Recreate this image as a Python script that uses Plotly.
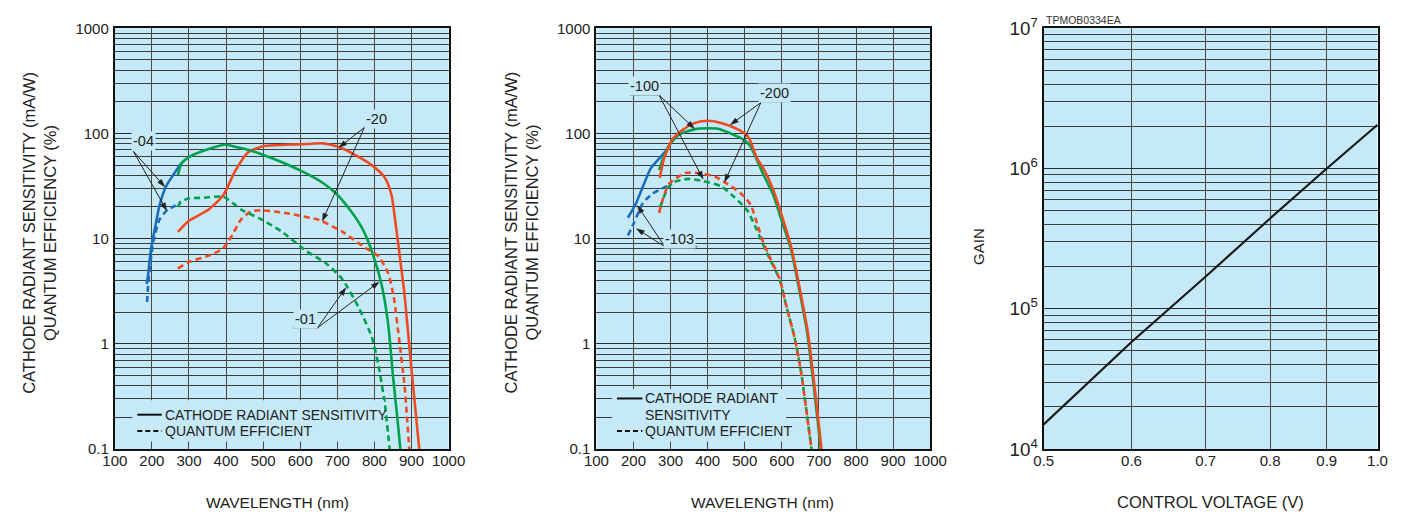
import plotly.graph_objects as go
import math

# ---------------- data ----------------
# Left panel (wavelength nm -> mA/W or %)
wl_04_crs = [186, 190, 194, 199, 208, 221, 239, 261, 279]
v_04_crs = [3.7, 4.6, 6.2, 8.5, 12.4, 21, 31.8, 42, 52]
wl_04_qe = [187, 190, 195, 204, 221, 243, 262, 278]
v_04_qe = [2.5, 3.6, 5.4, 9.4, 15.3, 18.9, 20.5, 22.4]

wl_01_crs = [270, 280, 300, 353, 397, 430, 468, 538, 580, 620, 660, 696, 740, 770, 793, 819, 837, 850, 863, 870]
v_01_crs = [40, 52, 59.6, 71, 78, 74, 68.6, 55.6, 48, 41, 34, 27, 17.6, 12, 7.6, 3.7, 1.55, 0.5, 0.18, 0.1]
wl_01_qe = [270, 278, 296, 340, 393, 441, 494, 551, 617, 670, 714, 758, 793, 811, 828, 841]
v_01_qe = [20, 22.4, 24, 24.5, 25, 18.9, 15.3, 11.6, 7.6, 5.8, 4.1, 2.2, 1.16, 0.62, 0.27, 0.1]

wl_20_crs = [270, 300, 353, 393, 424, 459, 503, 560, 620, 661, 700, 750, 793, 828, 846, 859, 872, 881, 899, 921]
v_20_crs = [11.6, 14.8, 18.9, 26, 43.6, 66, 76, 78, 79.5, 80.5, 75, 62, 50, 38, 26, 12.4, 5.4, 3.0, 0.62, 0.1]
wl_20_qe = [270, 300, 353, 388, 406, 441, 468, 494, 560, 652, 714, 775, 811, 837, 852, 868, 881, 894]
v_20_qe = [5.2, 6, 6.9, 7.9, 9.3, 15.3, 18.2, 18.6, 17.5, 15, 11.6, 8.2, 6.8, 4.7, 2.8, 1.0, 0.41, 0.1]

# Middle panel
wl_103_crs = [185, 207, 225, 247, 269, 291]
v_103_crs = [15.8, 21.7, 31, 46.8, 57.6, 70.8]
wl_103_qe = [185, 202, 225, 251, 286, 304]
v_103_qe = [10.7, 14.3, 21.7, 26.7, 31, 33]

wl_100_crs = [269, 280, 295, 322, 366, 401, 428, 462, 498, 515, 551, 577, 599, 624, 646, 668, 686, 705]
v_100_crs = [45, 58, 76, 97, 110, 112, 111, 100, 87, 76, 40, 26, 15, 8.1, 3.4, 1.3, 0.4, 0.1]
wl_100_qe = [272, 290, 304, 348, 383, 436, 471, 507, 533, 551, 568, 595, 612, 634, 652, 665, 680]
v_100_qe = [20, 29, 34, 37, 35.5, 31.5, 25, 18.5, 12, 8.5, 6.4, 4.0, 2.3, 1.16, 0.54, 0.25, 0.1]

wl_200_crs = [271, 282, 304, 331, 366, 401, 436, 471, 500, 507, 515, 533, 551, 577, 599, 626, 648, 670, 688, 707]
v_200_crs = [38, 57, 87, 107, 126, 132, 126, 114, 100, 95, 85, 58, 46, 29, 17, 8.1, 3.4, 1.3, 0.4, 0.1]
wl_200_qe = [269, 278, 295, 339, 375, 419, 454, 489, 516, 533, 551, 568, 595, 612, 634, 652, 665, 680]
v_200_qe = [17.6, 23, 33, 42, 42, 39, 33, 27, 21, 14, 9, 6.6, 4.07, 2.3, 1.16, 0.54, 0.25, 0.1]

# Right panel
voltage = [0.5, 0.6, 0.7, 0.8, 0.9, 1.0]
gain = [1.5e4, 5.8e4, 1.7e5, 4.4e5, 1.0e6, 2.05e6]

voltage_ticks = [0.5, 0.6, 0.7, 0.8, 0.9, 1.0]
voltage_labels = ["0.5", "0.6", "0.7", "0.8", "0.9", "1.0"]

# ---------------- style ----------------
W, H = 1418, 523
BG = "#c6e9f8"
BLUE = "#1a6dbb"
GREEN = "#00a04c"
RED = "#f04a24"
TXT = "#222222"
FONT = "Arial, 'Liberation Sans', Helvetica, sans-serif"
DASH = "6px,4px"


def px(x):
    return x / W


def py(y):
    return 1 - y / H


Y_DOM = [py(457), py(16)]

fig = go.Figure()


def curve(x, y, color, dash, xa, ya):
    fig.add_trace(go.Scatter(
        x=x, y=y, mode="lines", xaxis=xa, yaxis=ya, showlegend=False,
        line=dict(color=color, width=2.6, dash=dash, shape="spline", smoothing=0.6),
        hoverinfo="skip"))


# left panel
curve(wl_04_qe, v_04_qe, BLUE, DASH, "x", "y")
curve(wl_04_crs, v_04_crs, BLUE, "solid", "x", "y")
curve(wl_20_qe, v_20_qe, RED, DASH, "x", "y")
curve(wl_20_crs, v_20_crs, RED, "solid", "x", "y")
curve(wl_01_qe, v_01_qe, GREEN, DASH, "x", "y")
curve(wl_01_crs, v_01_crs, GREEN, "solid", "x", "y")

# middle panel
curve(wl_103_qe, v_103_qe, BLUE, DASH, "x2", "y2")
curve(wl_103_crs, v_103_crs, BLUE, "solid", "x2", "y2")
curve(wl_100_qe, v_100_qe, GREEN, DASH, "x2", "y2")
curve(wl_200_qe, v_200_qe, RED, DASH, "x2", "y2")
curve(wl_100_crs, v_100_crs, GREEN, "solid", "x2", "y2")
curve(wl_200_crs, v_200_crs, RED, "solid", "x2", "y2")

# right panel
fig.add_trace(go.Scatter(x=voltage, y=gain, mode="lines", xaxis="x3", yaxis="y3",
                         showlegend=False, line=dict(color="#1a1a1a", width=2.2),
                         hoverinfo="skip"))

GRID_X = "#474747"
GRID_Y = "#2a2a2a"
GRID_MINOR = "#3c3c3c"
tickfont = dict(size=15, color=TXT, family=FONT)


def base_axis(domain):
    return dict(domain=domain, showline=True, mirror=True, linecolor="#111", linewidth=2,
                zeroline=False, ticks="", ticklen=0, tickfont=tickfont, showgrid=True)


def wl_xaxis(domain, anchor):
    d = base_axis(domain)
    d.update(range=[100, 1000], tickmode="linear", tick0=100, dtick=100,
             gridcolor=GRID_X, gridwidth=1.3, anchor=anchor, ticklabelstandoff=-3)
    return d


def log_yaxis(rng, anchor, fmt):
    d = base_axis(Y_DOM)
    d.update(type="log", range=rng, tickmode="linear", tick0=0, dtick=1,
             exponentformat=fmt, gridcolor=GRID_Y, gridwidth=1.2, anchor=anchor,
             ticklabelstandoff=1,
             minor=dict(dtick="D1", showgrid=True, gridcolor=GRID_MINOR, gridwidth=1, ticks=""))
    return d


x3 = base_axis([px(1053), px(1394)])
x3.update(type="log", range=[math.log10(0.5), 0], tickmode="array",
          tickvals=voltage_ticks, ticktext=voltage_labels,
          gridcolor=GRID_X, gridwidth=1.3, anchor="y3", ticklabelstandoff=-3)

annotations = []
shapes = []


def text_ann(text, x, y, size=14, angle=0, anchor="center", bg=None, color=TXT):
    a = dict(text=text, x=px(x), y=py(y), xref="paper", yref="paper", showarrow=False,
             font=dict(size=size, color=color, family=FONT), textangle=angle,
             xanchor=anchor, yanchor="middle")
    if bg:
        a.update(bgcolor=bg, borderpad=1)
    annotations.append(a)


def seg(x0, y0, x1, y1, color="#222", width=1, dash="solid"):
    shapes.append(dict(type="line", xref="paper", yref="paper",
                       x0=px(x0), y0=py(y0), x1=px(x1), y1=py(y1),
                       line=dict(color=color, width=width, dash=dash)))


def arrow(tail, head, length=8.0, half=2.6):
    dx, dy = head[0] - tail[0], head[1] - tail[1]
    n = math.hypot(dx, dy)
    ux, uy = dx / n, dy / n
    bx, by = head[0] - ux * length, head[1] - uy * length
    seg(tail[0], tail[1], bx + ux * 1.5, by + uy * 1.5, color="#222", width=1)
    pts = [(head[0], head[1]), (bx - uy * half, by + ux * half), (bx + uy * half, by - ux * half)]
    path = "M " + " L ".join(f"{px(a):.6f},{py(b):.6f}" for a, b in pts) + " Z"
    shapes.append(dict(type="path", xref="paper", yref="paper", path=path,
                       fillcolor="#222", line=dict(color="#222", width=0.5)))


def callout(text, center, underline, tail, heads):
    for h in heads:
        arrow(tail, h)
    seg(underline[0], underline[2], underline[1], underline[2], color="#333", width=1)
    text_ann(text, center[0], center[1], size=14.5, bg=BG)


callout("-04", (133, 134), (120, 147, 143), (123, 145), [(155, 182), (157, 207)])
callout("-20", (371, 111), (359, 382, 119), (359, 120), [(333, 141), (316, 218)])
callout("-01", (299, 321), (286, 312, 330), (311, 330), [(340, 288), (374, 282)])
callout("-100", (645, 77), (630, 662, 86), (660, 86), [(696, 121), (705, 174)])
callout("-200", (778, 84), (763, 793, 93), (764, 94), [(733, 117), (727, 177)])
callout("-103", (681, 237), (665, 699, 245), (666, 245), [(638, 202), (637, 226)])


# in-plot keys (solid = cathode radiant sensitivity, dashed = quantum efficiency)
def key(box, line_x, rows):
    shapes.append(dict(type="rect", xref="paper", yref="paper",
                       x0=px(box[0]), y0=py(box[1]), x1=px(box[2]), y1=py(box[3]),
                       fillcolor=BG, line=dict(width=0)))
    for label, y, style in rows:
        if style:
            seg(line_x[0], y, line_x[1], y, color="#111", width=2,
                dash="solid" if style == "solid" else "5px,3px")
        text_ann(label, line_x[1] + 1, y, size=14, anchor="left")


key((122, 406, 379, 449), (127, 152),
    [("CATHODE RADIANT SENSITIVITY", 421, "solid"), ("QUANTUM EFFICIENT", 438, "dash")])
key((612, 394, 790, 449), (617, 643),
    [("CATHODE RADIANT", 404, "solid"), ("SENSITIVITY", 421, None),
     ("QUANTUM EFFICIENT", 438, "dash")])

# axis titles
YT = "CATHODE RADIANT SENSITIVITY (mA/W)<br>QUANTUM EFFICIENCY (%)"
text_ann(YT, 27, 230, size=16.5, angle=-90)
text_ann(YT, 519, 230, size=16.5, angle=-90)
text_ann("GAIN", 987, 245, size=15, angle=-90)
text_ann("WAVELENGTH (nm)", 270, 513, size=15.5)
text_ann("WAVELENGTH (nm)", 766, 513, size=15.5)
text_ann("CONTROL VOLTAGE (V)", 1223, 513, size=16.5)
text_ann("TPMOB0334EA", 1053, 7, size=10.5, anchor="left", color="#333")

fig.update_layout(
    autosize=True, margin=dict(l=0, r=0, t=0, b=0),
    paper_bgcolor="white", plot_bgcolor=BG,
    font=dict(family=FONT, color=TXT),
    xaxis=wl_xaxis([px(104), px(445)], "y"),
    xaxis2=wl_xaxis([px(596), px(937)], "y2"),
    xaxis3=x3,
    yaxis=log_yaxis([-1, 3], "x", "none"),
    yaxis2=log_yaxis([-1, 3], "x2", "none"),
    yaxis3=log_yaxis([4, 7], "x3", "power"),
    annotations=annotations, shapes=shapes,
    showlegend=False,
)

# The graph div is pinned to the window's top-left corner at exactly the window size,
# so the default page margin cannot shift it or create scrollbars.
fig.write_html(
    "out.html",
    config={"displayModeBar": False},
    default_width=f"{W}px",
    default_height=f"{H}px; position:fixed; left:0; top:0",
)
